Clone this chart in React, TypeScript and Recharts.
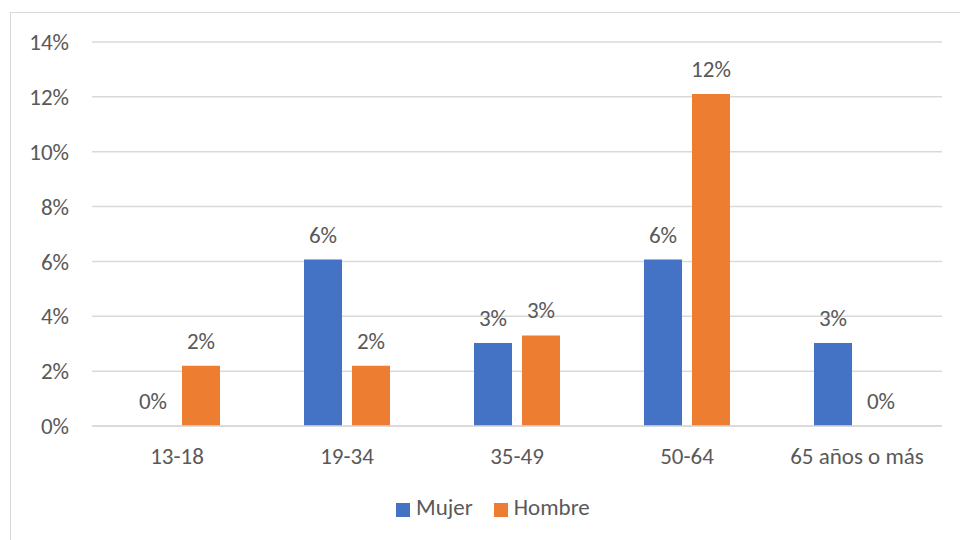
import { BarChart, Bar, XAxis, YAxis, CartesianGrid, Legend, LabelList } from 'recharts'

const categories = ['13-18', '19-34', '35-49', '50-64', '65 años o más']
const mujer = [0, 6.07, 3.03, 6.07, 3.03]
const hombre = [2.2, 2.2, 3.3, 12.1, 0]
const yTicks = [0, 2, 4, 6, 8, 10, 12, 14]

const FONT = 'Calibri, Carlito, Lato, sans-serif'
const TEXT = '#595959'
const FS = 23

const data = categories.map((name, i) => ({ name, Mujer: mujer[i], Hombre: hombre[i] }))

const pct = (v: any) => `${Math.round(Number(v))}%`

// own label so that zero-height bars still get their "0%"
const renderLabel = (props: any) => {
  const { x, y, width, value } = props
  return (
    <text
      x={Number(x) + Number(width) / 2}
      y={Number(y) - 17}
      textAnchor="middle"
      fill={TEXT}
      fontSize={FS}
      fontFamily={FONT}
    >
      {pct(value)}
    </text>
  )
}

export default function App() {
  return (
    <div
      style={{
        position: 'absolute',
        left: 10,
        top: 12,
        width: 960,
        height: 540,
        border: '1px solid #d9d9d9',
        background: '#fff',
        fontFamily: FONT,
      }}
    >
      <BarChart
        width={950}
        height={528}
        data={data}
        margin={{ top: 29, right: 19, left: 0, bottom: 20 }}
        barGap={10}
        barSize={38}
      >
        <CartesianGrid vertical={false} stroke="#d9d9d9" strokeWidth={1.5} />
        <XAxis
          dataKey="name"
          tickLine={false}
          tickSize={0}
          axisLine={{ stroke: '#d9d9d9', strokeWidth: 1.5 }}
          tick={{ fill: TEXT, fontSize: FS, fontFamily: FONT }}
          tickMargin={22}
          height={67}
          interval={0}
        />
        <YAxis
          domain={[0, 14]}
          ticks={yTicks}
          tickFormatter={pct}
          tickLine={false}
          axisLine={false}
          tickSize={0}
          tickMargin={23}
          width={81}
          tick={{ fill: TEXT, fontSize: FS, fontFamily: FONT }}
        />
        <Legend
          verticalAlign="bottom"
          iconType="square"
          iconSize={14}
          itemSorter={(item: any) => (item.value === 'Mujer' ? 0 : 1)}
          wrapperStyle={{ fontSize: FS, fontFamily: FONT, color: TEXT, left: 385, width: 'auto' }}
          formatter={(value: string) => (
            <span style={{ color: TEXT, marginLeft: 2, marginRight: 11 }}>{value}</span>
          )}
        />
        <Bar dataKey="Mujer" fill="#4472C4" minPointSize={0.01} isAnimationActive={false}>
          <LabelList dataKey="Mujer" content={renderLabel} />
        </Bar>
        <Bar dataKey="Hombre" fill="#ED7D31" minPointSize={0.01} isAnimationActive={false}>
          <LabelList dataKey="Hombre" content={renderLabel} />
        </Bar>
      </BarChart>
    </div>
  )
}
